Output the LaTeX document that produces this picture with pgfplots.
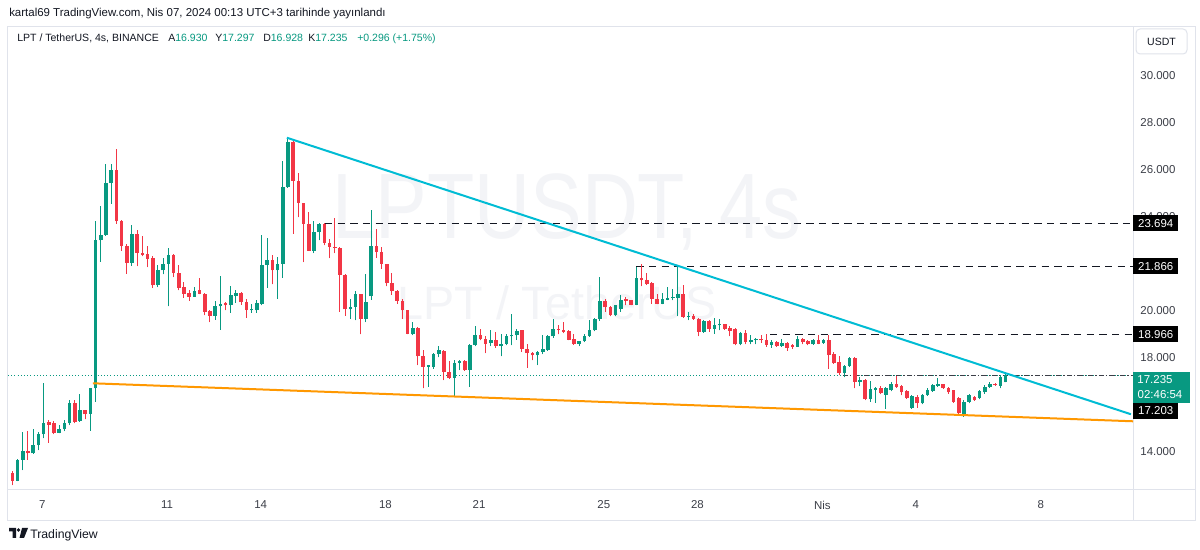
\documentclass[border=0pt]{standalone}
\usepackage{fontspec}
\setmainfont{Liberation Sans}
\usepackage{pgfplots}
\pgfplotsset{compat=1.18}
\usepackage{pgfplotstable}

\definecolor{tvup}{RGB}{8,153,129}
\definecolor{tvdown}{RGB}{242,54,69}
\definecolor{tvcyan}{RGB}{0,188,212}
\definecolor{tvorange}{RGB}{255,152,0}
\definecolor{tvtext}{RGB}{19,23,34}
\definecolor{tvaxis}{RGB}{60,63,72}
\definecolor{tvframe}{RGB}{224,227,235}
\definecolor{tvwater}{RGB}{243,244,247}

% 4h candles, index i (one day = 6 candles)
\pgfplotstableread{
i o h l c
0 13.05 13.16 12.55 12.74
1 12.74 13.65 12.72 13.62
2 13.62 14.82 13.19 14.00
3 14.00 14.85 13.62 13.90
4 13.90 14.94 13.88 14.25
5 14.25 14.82 14.04 14.71
6 14.71 16.92 14.54 15.18
7 15.22 15.32 14.35 15.13
8 15.18 15.28 14.72 14.78
9 14.78 15.13 14.75 14.94
10 14.93 15.32 14.85 15.21
11 15.18 16.17 15.11 16.06
12 16.06 16.17 15.18 15.25
13 15.28 16.42 15.25 15.77
14 15.74 15.77 15.35 15.57
15 15.60 16.70 14.87 16.67
16 16.67 23.83 16.10 22.98
17 22.98 24.47 22.08 23.22
18 23.22 26.24 23.19 25.42
19 25.42 26.24 24.54 26.00
20 26.00 26.88 23.69 23.80
21 23.83 23.86 22.55 22.74
22 22.74 22.84 21.56 22.03
23 22.03 23.62 21.91 23.26
24 23.26 23.43 21.89 22.45
25 22.45 23.18 22.30 22.37
26 22.41 22.74 21.84 22.20
27 22.23 22.33 20.97 21.06
28 21.06 21.92 20.99 21.70
29 21.70 22.23 21.53 21.99
30 21.99 22.67 20.17 22.38
31 22.38 22.41 21.42 21.60
32 21.60 21.92 20.85 20.97
33 20.99 21.20 20.53 20.71
34 20.74 20.88 20.40 20.57
35 20.57 20.99 20.57 20.82
36 20.88 21.39 20.68 20.71
37 20.71 20.74 19.79 19.93
38 19.96 20.00 19.50 19.76
39 19.76 20.40 19.60 20.19
40 20.17 21.46 19.18 20.28
41 20.31 20.35 20.00 20.21
42 20.21 21.02 19.89 20.67
43 20.61 20.88 20.33 20.75
44 20.75 20.79 20.23 20.35
45 20.35 20.50 19.69 20.03
46 20.00 20.26 19.90 20.04
47 20.00 20.43 19.89 20.31
48 20.28 23.23 20.21 21.94
49 21.94 23.09 20.97 22.16
50 22.16 22.34 21.11 21.70
51 21.70 22.27 20.50 21.99
52 21.99 26.38 21.38 25.25
53 25.25 27.40 25.22 27.16
54 27.19 27.26 23.26 25.53
55 25.53 25.84 23.97 24.58
56 24.58 24.58 22.06 23.69
57 23.69 24.18 22.55 22.55
58 22.55 23.83 22.44 23.33
59 23.33 23.72 22.98 23.69
60 23.69 23.72 22.77 22.88
61 22.88 23.05 22.23 22.72
62 22.72 23.94 22.44 22.68
63 22.68 22.72 19.93 21.52
64 21.52 21.55 19.77 20.04
65 20.04 20.50 19.65 20.14
66 20.14 20.81 19.57 20.71
67 20.71 20.71 18.98 19.65
68 19.65 21.56 19.50 20.35
69 20.60 24.26 20.45 22.74
70 22.74 23.48 22.24 22.48
71 22.48 22.69 21.77 21.99
72 21.99 21.99 21.02 21.16
73 21.16 21.59 20.67 20.82
74 20.82 20.85 20.28 20.40
75 20.40 20.50 19.65 20.00
76 20.00 20.03 18.98 19.01
77 18.98 19.50 18.94 19.25
78 19.25 19.29 17.66 18.04
79 18.04 18.30 16.67 17.59
80 17.59 17.66 16.74 17.66
81 17.59 18.19 17.52 18.16
82 18.13 18.48 17.99 18.30
83 18.27 18.30 17.02 17.38
84 17.38 17.83 17.09 17.12
85 17.12 17.87 16.35 17.76
86 17.76 17.87 17.45 17.83
87 17.83 17.87 17.42 17.45
88 17.45 18.58 16.74 18.54
89 18.54 19.32 18.48 18.96
90 18.96 19.19 18.72 18.79
91 18.79 18.89 18.18 18.58
92 18.61 19.15 18.48 18.75
93 18.75 19.08 18.41 18.47
94 18.47 19.00 18.04 18.58
95 18.58 19.00 18.51 18.89
96 18.89 19.86 18.51 18.93
97 18.93 19.22 18.75 19.10
98 19.15 19.18 18.23 18.37
99 18.37 18.58 17.56 18.18
100 18.18 18.23 17.87 18.08
101 18.08 18.27 17.66 18.23
102 18.23 18.96 18.13 18.37
103 18.30 18.96 18.27 18.89
104 18.89 19.64 18.84 19.19
105 19.19 19.36 18.98 19.15
106 19.15 19.50 19.03 19.08
107 19.10 19.15 18.72 18.75
108 18.79 19.00 18.54 18.58
109 18.58 18.70 18.47 18.68
110 18.68 19.00 18.65 18.92
111 18.92 19.57 18.87 19.15
112 19.15 19.69 19.10 19.64
113 19.64 21.42 19.55 20.42
114 20.42 20.50 19.93 20.14
115 20.14 20.17 19.74 19.79
116 19.79 20.24 19.74 20.21
117 20.05 20.64 19.93 20.43
118 20.48 20.57 20.21 20.40
119 20.43 20.46 20.21 20.24
120 20.24 21.87 20.21 21.39
121 21.39 21.96 21.02 21.28
122 21.30 21.59 21.09 21.14
123 21.18 21.21 20.28 20.50
124 20.50 20.71 20.26 20.28
125 20.28 20.74 20.26 20.47
126 20.46 21.00 20.43 20.54
127 20.53 20.92 20.43 20.57
128 20.54 21.84 19.75 20.68
129 20.68 21.06 19.69 19.72
130 19.72 19.93 19.58 19.76
131 19.76 19.86 19.60 19.65
132 19.65 19.69 18.90 19.08
133 19.08 19.58 19.04 19.53
134 19.53 19.58 19.08 19.22
135 19.22 19.67 19.01 19.36
136 19.36 19.62 19.15 19.43
137 19.43 19.43 19.18 19.22
138 19.25 19.32 18.90 19.12
139 19.22 19.26 18.51 18.55
140 18.55 19.06 18.51 19.04
141 19.04 19.15 18.55 18.65
142 18.67 18.94 18.55 18.72
143 18.72 18.84 18.55 18.77
144 18.77 18.94 18.61 18.72
145 18.72 18.98 18.44 18.54
146 18.54 18.75 18.41 18.65
147 18.65 18.68 18.44 18.48
148 18.48 18.79 18.44 18.61
149 18.61 18.64 18.27 18.41
150 18.53 18.58 18.37 18.44
151 18.44 18.89 18.44 18.79
152 18.79 18.80 18.55 18.65
153 18.68 18.72 18.51 18.55
154 18.55 18.79 18.54 18.75
155 18.75 18.94 18.55 18.58
156 18.61 18.79 18.58 18.72
157 18.72 18.96 17.52 18.09
158 18.16 18.23 17.73 17.77
159 17.80 18.04 17.24 17.31
160 17.31 17.66 17.14 17.63
161 17.63 17.99 17.59 17.97
162 17.97 17.99 16.67 16.95
163 16.95 17.14 16.77 17.02
164 17.02 17.06 16.17 16.22
165 16.22 17.00 16.10 16.65
166 16.60 16.74 16.06 16.67
167 16.67 16.78 16.43 16.47
168 16.41 16.72 15.81 16.67
169 16.60 16.95 16.55 16.88
170 16.88 17.20 16.70 16.74
171 16.78 16.81 16.38 16.50
172 16.55 16.60 16.24 16.27
173 15.84 16.38 15.81 16.34
174 16.31 16.41 15.84 16.03
175 16.03 16.45 15.99 16.41
176 16.38 16.67 16.36 16.60
177 16.55 16.88 16.52 16.81
178 16.78 17.12 16.74 16.84
179 16.84 16.88 16.66 16.70
180 16.70 16.74 16.45 16.50
181 16.60 16.62 16.07 16.10
182 16.27 16.31 15.60 15.64
183 15.56 16.17 15.46 16.10
184 16.10 16.45 16.03 16.38
185 16.31 16.36 16.14 16.17
186 16.27 16.60 16.20 16.55
187 16.50 16.81 16.45 16.74
188 16.74 16.95 16.70 16.88
189 16.88 16.92 16.78 16.81
190 16.78 17.23 16.67 17.16
191 16.930 17.297 16.928 17.235
}\candles

\pgfplotsset{
  candle/.style n args={2}{only marks, mark=*, mark size=0pt,
    mark options={draw=none, fill=none}, forget plot,
    /pgfplots/error bars/y dir=plus,
    /pgfplots/error bars/y explicit,
    /pgfplots/error bars/error mark=none,
    /pgfplots/error bars/error bar style={#1, line width=#2}},
}

\begin{document}
\begin{tikzpicture}[x=0.75pt,y=0.75pt]
\useasboundingbox[fill=white] (0,0) rectangle (1200,550);

% panel frame
\draw[tvframe, line width=0.75pt] (7,{550-27}) rectangle (1195,{550-521});
\draw[tvframe, line width=0.75pt] (1133,{550-27}) -- (1133,{550-521});
\draw[tvframe, line width=0.75pt] (7,{550-490}) -- (1195,{550-490});

% watermark
\node[text=tvwater, font=\fontsize{58}{58}\selectfont, inner sep=0pt] at (567,{550-212}) {\scalebox{1}[1.2]{LPTUSDT, 4s}};
\node[text=tvwater, font=\fontsize{35}{35}\selectfont, inner sep=0pt] at (557,{550-303}) {LPT / TetherUS};

\begin{axis}[
    at={(6pt,45pt)}, anchor=south west,
    scale only axis,
    width=843.75pt, height=346.5pt,
    xmin=-0.83, xmax=215.5,
    ymin=12.34, ymax=32.04,
    axis line style={draw=none},
    major tick length=0pt,
    xtick={5.75,29.75,47.75,71.75,89.75,113.75,131.75,155.75,173.75,197.75},
    xticklabels={7,11,14,18,21,25,28,Nis,4,8},
    ytick={14,18,20,24,26,28,30},
    yticklabel pos=right,
    tick label style={font=\fontsize{8.6}{10}\selectfont, text=tvaxis},
    xticklabel style={yshift=-4.5pt},
    yticklabel style={xshift=2pt, /pgf/number format/.cd, fixed, fixed zerofill, precision=3, assume math mode=true},
]
% last price line
\addplot[tvup, line width=0.75pt, dash pattern=on 0.8pt off 1.6pt] coordinates {(-0.83,17.235) (215.5,17.235)};
% horizontal levels
\addplot[tvtext, line width=0.75pt, dash pattern=on 5.5pt off 4pt] coordinates {(60.1,23.694) (215.5,23.694)};
\addplot[tvtext, line width=0.75pt, dash pattern=on 5.5pt off 4pt] coordinates {(120,21.866) (215.5,21.866)};
\addplot[tvtext, line width=0.75pt, dash pattern=on 5.5pt off 4pt] coordinates {(145.7,18.966) (215.5,18.966)};
\addplot[tvaxis, line width=0.75pt, dash pattern=on 4pt off 1.5pt on 1pt off 1.5pt] coordinates {(159.7,17.203) (215.5,17.203)};

% wicks
\addplot[restrict expr to domain={\thisrow{c}-\thisrow{o}}{0:100}, candle={tvup}{0.75pt}]
    table[x=i, y=l, y error plus expr={\thisrow{h}-\thisrow{l}}] {\candles};
\addplot[restrict expr to domain={\thisrow{c}-\thisrow{o}}{-100:0}, candle={tvdown}{0.75pt}]
    table[x=i, y=l, y error plus expr={\thisrow{h}-\thisrow{l}}] {\candles};
% bodies
\addplot[restrict expr to domain={\thisrow{c}-\thisrow{o}}{0:100}, candle={tvup}{2.7pt}]
    table[x=i, y=o, y error plus expr={\thisrow{c}-\thisrow{o}}] {\candles};
\addplot[restrict expr to domain={\thisrow{c}-\thisrow{o}}{-100:0}, candle={tvdown}{2.7pt}]
    table[x=i, y=c, y error plus expr={\thisrow{o}-\thisrow{c}}] {\candles};

% trend lines
\addplot[tvcyan, line width=1.5pt] coordinates {(52.8,27.36) (215.1,15.57)};
\addplot[tvorange, line width=1.5pt] coordinates {(15.5,16.89) (215.5,15.27)};
\end{axis}

% header
\node[anchor=base west, inner sep=0pt, font=\fontsize{8.6}{10}\selectfont, text=tvtext] at (9,{550-17}) {kartal69 TradingView.com, Nis 07, 2024 00:13 UTC+3 tarihinde yayınlandı};
\begin{scope}[every node/.style={anchor=base west, inner sep=0pt, font=\fontsize{7.9}{9}\selectfont, text=tvtext}]
\node at (17,{550-42}) {LPT / TetherUS, 4s, BINANCE};
\node at (168,{550-42}) {A\textcolor{tvup}{16.930}};
\node at (215,{550-42}) {Y\textcolor{tvup}{17.297}};
\node at (263,{550-42}) {D\textcolor{tvup}{16.928}};
\node at (308,{550-42}) {K\textcolor{tvup}{17.235}};
\node[text=tvup] at (357,{550-42}) {+0.296 (+1.75\%)};
\end{scope}

% currency button
\draw[tvframe, line width=0.75pt, rounded corners=3pt] (1136,{550-29}) rectangle (1187,{550-54});
\node[font=\fontsize{7.9}{9}\selectfont, text=tvtext] at (1161.5,{550-41.5}) {USDT};

% price labels on the scale
\begin{scope}[every node/.style={anchor=west, inner sep=0pt, font=\fontsize{8.6}{10}\selectfont, text=white, minimum height=12pt, text width=33.75pt, align=center}]
\node[fill=black] at (1133,{550-223.2}) {23.694};
\node[fill=black] at (1133,{550-266.1}) {21.866};
\node[fill=black] at (1133,{550-334.3}) {18.966};
\node[fill=black] at (1133,{550-411}) {17.203};
\end{scope}
\node[fill=tvup, anchor=north west, inner sep=0pt, minimum width=42.75pt, minimum height=23.25pt] at (1133,{550-372}) {};
\node[text=white, font=\fontsize{8.6}{10}\selectfont] at (1155,{550-380}) {17.235};
\node[text=white, font=\fontsize{8.6}{10}\selectfont] at (1160,{550-395}) {02:46:54};

% logo
\fill[tvtext] (9,{550-528}) -- (16,{550-528}) -- (16,{550-538}) -- (12.5,{550-538}) -- (12.5,{550-531.5}) -- (9,{550-531.5}) -- cycle;
\fill[tvtext] (18.5,{550-530}) circle (1.8);
\fill[tvtext] (22,{550-528}) -- (28,{550-528}) -- (24,{550-538}) -- (19.5,{550-538}) -- cycle;
\node[anchor=base west, inner sep=0pt, font=\fontsize{9.2}{11}\selectfont, text=tvtext] at (30,{550-538}) {TradingView};
\end{tikzpicture}
\end{document}
